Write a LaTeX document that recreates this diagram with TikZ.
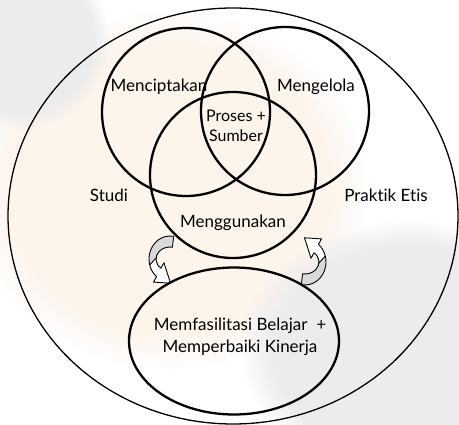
\documentclass[tikz,border=0pt]{standalone}
\usepackage{fontspec}
\setmainfont{Lato}[Ligatures=NoCommon]
\usetikzlibrary{calc,shapes.geometric,fadings}

\definecolor{bandgray}{HTML}{D9D9D9}
\definecolor{peach}{HTML}{FDF4EC}
\definecolor{mist}{HTML}{ECECEE}

\tikzset{
  field/.style={draw, ellipse, line width=1.3pt, inner sep=0pt},
  venn/.style={draw, circle, line width=2.3pt, inner sep=0pt},
  goal/.style={draw, ellipse, line width=2.3pt, inner sep=0pt},
  lbl/.style={inner sep=0pt, align=center, font=\fontsize{17}{21}\selectfont},
  haze/.style={path fading=circle with fuzzy edge 20 percent},
  % curved block arrow: elliptic band with a twist and a triangular head
  pics/twist/.style={code={
    \fill[white] (-80:21 and 23) arc[start angle=-80, end angle=-230, x radius=21, y radius=23]
      -- (-16.44,23.10) -- (0.53,24.22) -- (-6.06,3.70) -- (-230:14 and 12)
      arc[start angle=-230, end angle=-80, x radius=14, y radius=12] -- cycle;
    \fill[bandgray] (-80:21 and 23) arc[start angle=-80, end angle=-195, x radius=21, y radius=23]
      -- (-175:14 and 12) arc[start angle=-175, end angle=-80, x radius=14, y radius=12] -- cycle;
    \draw[line width=0.9pt] (-195:21 and 23) -- (-175:14 and 12);
    \draw[line width=0.9pt, line join=round] (-80:21 and 23) arc[start angle=-80, end angle=-230, x radius=21, y radius=23]
      -- (-16.44,23.10) -- (0.53,24.22) -- (-6.06,3.70) -- (-230:14 and 12)
      arc[start angle=-230, end angle=-80, x radius=14, y radius=12] -- cycle;
  }},
}

\begin{document}
\begin{tikzpicture}[x=1pt, y=-1pt]
\useasboundingbox (0,0) rectangle (459,425);
\fill[white] (0,0) rectangle (459,425);
% faint backdrop tints with soft edges
\fill[peach, haze] (170,190) ellipse[x radius=200, y radius=180];
\fill[mist, haze] (410,350) ellipse[x radius=170, y radius=130];
\fill[mist, haze] (20,40) ellipse[x radius=90, y radius=90];

% the whole field of study and ethical practice
\node[field, minimum width=450pt, minimum height=416pt] (scope) at (233,216) {};

% three overlapping activities
\node[venn, minimum size=168pt] (create) at (186,112) {};
\node[venn, minimum size=168pt] (manage) at (285,111) {};
\node[venn, minimum size=166pt] (use) at (233,175) {};

% feedback arrows between the activities and the goal
\pic at (170,259) {twist};
\pic[rotate=180] at (305,262) {twist};

% goal
\node[goal, minimum width=210pt, minimum height=147pt] (target) at (234,341) {};

% labels
\node[lbl, anchor=base] (tcreate) at (159,92) {Menciptakan};
\node[lbl, anchor=base] (tmanage) at (316,92) {Mengelola};
\node[lbl, anchor=base, font=\fontsize{16}{20}\selectfont] (tcore) at (236,142) {Proses +\\Sumber};
\node[lbl, anchor=base] (tstudy) at (109,202) {Studi};
\node[lbl, anchor=base] (tethic) at (386,202) {Praktik Etis};
\node[lbl, anchor=base] (tuse) at (233,228) {Menggunakan};
\node[lbl, anchor=base, font=\fontsize{17}{22.6}\selectfont] (tgoal) at (240,353) {Memfasilitasi Belajar\ \ +\\Memperbaiki Kinerja};
\end{tikzpicture}
\end{document}
